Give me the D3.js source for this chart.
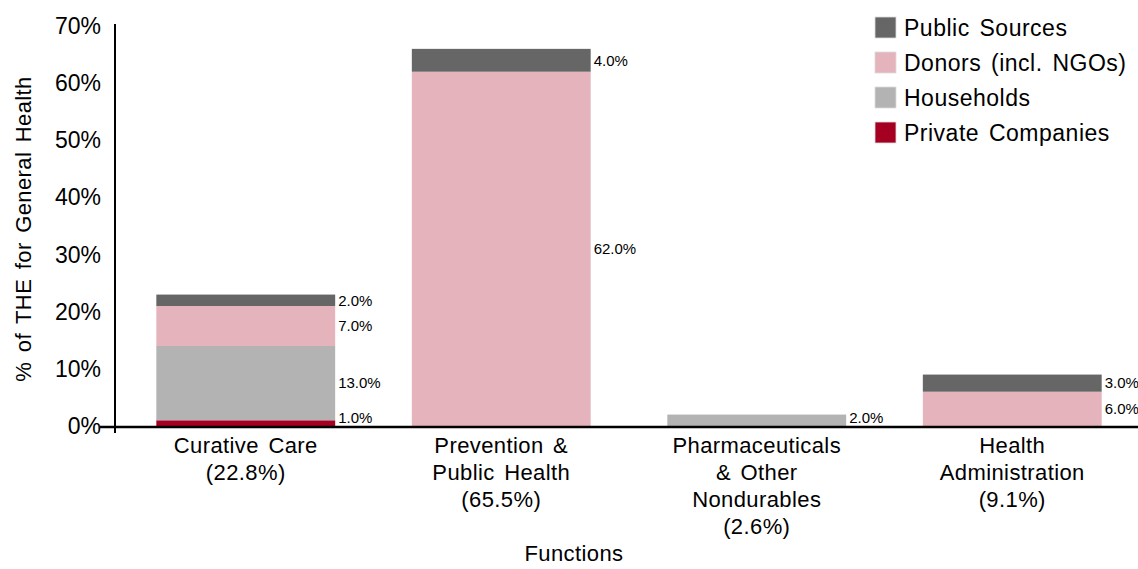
<!DOCTYPE html>
<html>
<head>
<meta charset="utf-8">
<script src="https://cdn.jsdelivr.net/npm/d3@7"></script>
<style>
  body { margin: 0; background: #fff; }
  svg { display: block; font-family: "Liberation Sans", Arial, sans-serif; }
</style>
</head>
<body>
<script>
  // categories (one entry per line of the axis label)
  const categories = ['Curative Care', 'Prevention', 'Pharmaceuticals', 'Health Administration'];
  const categoryLines = [
    ['Curative Care', '(22.8%)'],
    ['Prevention &', 'Public Health', '(65.5%)'],
    ['Pharmaceuticals', '& Other', 'Nondurables', '(2.6%)'],
    ['Health', 'Administration', '(9.1%)']
  ];

  // series, stacked bottom to top
  const seriesNames = ['Private Companies', 'Households', 'Donors (incl. NGOs)', 'Public Sources'];
  const privateCompanies = [1, 0, 0, 0];
  const households = [13, 0, 2, 0];
  const donors = [7, 62, 0, 6];
  const publicSources = [2, 4, 0, 3];
  const seriesColors = ['#a50021', '#b3b3b3', '#e4b3bb', '#666666'];

  const yTicks = [0, 10, 20, 30, 40, 50, 60, 70];

  const width = 1138, height = 569;
  let svg = d3.select('body').append('svg').attr('width', width).attr('height', height);

  // table for d3.stack
  let rows = categories.map(function (c, i) {
    return {
      cat: c,
      'Private Companies': privateCompanies[i],
      'Households': households[i],
      'Donors (incl. NGOs)': donors[i],
      'Public Sources': publicSources[i]
    };
  });
  let stacked = d3.stack().keys(seriesNames)(rows);

  let x = d3.scaleBand().domain(categories).range([118, 1140]).paddingInner(0.3).paddingOuter(0.15);
  let y = d3.scaleLinear().domain([0, 70]).range([426, 26]);
  let color = d3.scaleOrdinal().domain(seriesNames).range(seriesColors);

  /**
   * bars
   */
  let layer = svg.append('g').selectAll('g').data(stacked).join('g')
    .attr('fill', function (d) { return color(d.key); });

  layer.selectAll('rect').data(function (d) { return d; }).join('rect')
    .filter(function (d) { return d[1] - d[0] > 0; })
    .attr('x', function (d) { return x(d.data.cat); })
    .attr('y', function (d) { return y(d[1]); })
    .attr('width', x.bandwidth())
    .attr('height', function (d) { return y(d[0]) - y(d[1]); });

  /**
   * value labels on the right side of each segment
   */
  let fmt = d3.format('.1f');
  stacked.forEach(function (s) {
    s.forEach(function (d) {
      let v = d[1] - d[0];
      if (v <= 0) return;
      let mid = (y(d[0]) + y(d[1])) / 2;
      svg.append('text')
        .attr('x', x(d.data.cat) + x.bandwidth() + 3)
        .attr('y', Math.min(mid, y(0) - 8))
        .attr('dy', '0.35em')
        .style('font-size', '15px')
        .style('fill', '#000')
        .text(fmt(v) + '%');
    });
  });

  /**
   * axes
   */
  svg.append('line')
    .attr('x1', 100).attr('x2', 1138)
    .attr('y1', y(0) + 1).attr('y2', y(0) + 1)
    .style('stroke', '#000').style('stroke-width', 2.5);
  svg.append('line')
    .attr('x1', 115).attr('x2', 115)
    .attr('y1', y(70) - 2).attr('y2', y(0) + 7)
    .style('stroke', '#000').style('stroke-width', 2);

  svg.append('g').selectAll('text').data(yTicks).join('text')
    .attr('x', 101)
    .attr('y', function (d) { return y(d); })
    .attr('dy', '0.35em')
    .attr('text-anchor', 'end')
    .style('font-size', '23px')
    .text(function (d) { return d + '%'; });

  // category labels
  let catLabel = svg.append('g').selectAll('text').data(categories).join('text')
    .attr('text-anchor', 'middle')
    .style('font-size', '22px')
    .style('letter-spacing', '0.4px')
    .style('word-spacing', '3px');
  catLabel.each(function (c, i) {
    let t = d3.select(this);
    categoryLines[i].forEach(function (line, j) {
      t.append('tspan')
        .attr('x', x(c) + x.bandwidth() / 2)
        .attr('y', 453 + j * 27)
        .text(line);
    });
  });

  svg.append('text')
    .attr('x', 574).attr('y', 561)
    .attr('text-anchor', 'middle')
    .style('font-size', '22px')
    .style('letter-spacing', '0.4px')
    .text('Functions');

  svg.append('text')
    .attr('transform', 'translate(31, 229) rotate(-90)')
    .attr('text-anchor', 'middle')
    .style('font-size', '22px')
    .style('letter-spacing', '0.4px')
    .style('word-spacing', '3px')
    .text('% of THE for General Health');

  /**
   * legend (top to bottom reverses the stack)
   */
  let legendItems = seriesNames.slice().reverse();
  let legend = svg.append('g').selectAll('g').data(legendItems).join('g')
    .attr('transform', function (d, i) { return 'translate(875,' + (17 + i * 35) + ')'; });
  legend.append('rect')
    .attr('width', 21).attr('height', 21)
    .style('fill', function (d) { return color(d); })
    .style('stroke', '#ddd').style('stroke-width', 0.8);
  legend.append('text')
    .attr('x', 29).attr('y', 10.5)
    .attr('dy', '0.35em')
    .style('font-size', '23px')
    .style('letter-spacing', '0.5px')
    .style('word-spacing', '3px')
    .text(function (d) { return d; });
</script>
</body>
</html>
